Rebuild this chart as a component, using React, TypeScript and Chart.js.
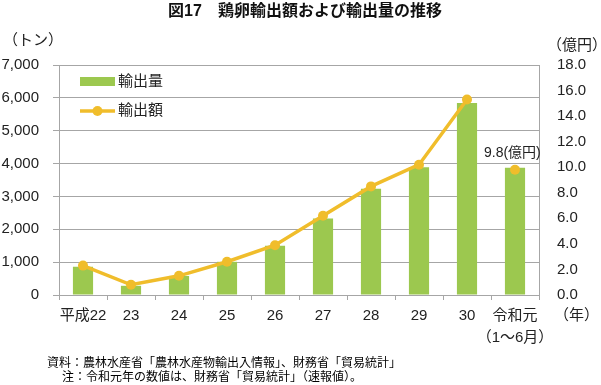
import React, { useEffect, useRef } from "react";
import { Chart, registerables } from "chart.js";

Chart.register(...registerables);

const categories: (string | string[])[] = ["平成22", "23", "24", "25", "26", "27", "28", "29", "30", ["令和元", "（1〜6月）"]];
const volumeTons: number[] = [860, 280, 580, 1010, 1500, 2330, 3230, 3890, 5840, 3870];
const valueOku: (number | null)[] = [2.3, 0.8, 1.5, 2.6, 3.9, 6.2, 8.5, 10.2, 15.3, null];
const valueOkuPartial: (number | null)[] = [null, null, null, null, null, null, null, null, null, 9.8];
const leftTicksMax = 7000;
const rightTicksMax = 18;

const FONT = "'Liberation Sans', Arial, 'Noto Sans CJK JP', sans-serif";
const GREEN = "#9cc84f";
const YELLOW = "#f0bd2b";
const GRID = "#a6a6a6";
const TEXT = "#222";

const overlayPlugin = {
  id: "overlay",
  afterDraw(chart: any) {
    const ctx = chart.ctx;
    const area = chart.chartArea;
    ctx.save();
    // title
    ctx.fillStyle = "#111";
    ctx.font = `bold 16px ${FONT}`;
    ctx.textAlign = "center";
    ctx.textBaseline = "middle";
    ctx.fillText("図17　鶏卵輸出額および輸出量の推移", 305, 12);
    // axis titles
    ctx.fillStyle = TEXT;
    ctx.font = `15px ${FONT}`;
    ctx.textAlign = "left";
    ctx.fillText("（トン）", 3, 41);
    ctx.fillText("（億円）", 547, 46);
    ctx.fillText("（年）", 554, 316);
    // legend
    const lx = area.left + 21;
    ctx.fillStyle = GREEN;
    ctx.fillRect(lx, 77, 35, 9);
    ctx.strokeStyle = YELLOW;
    ctx.lineWidth = 3.5;
    ctx.beginPath();
    ctx.moveTo(lx, 111);
    ctx.lineTo(lx + 35, 111);
    ctx.stroke();
    ctx.fillStyle = YELLOW;
    ctx.beginPath();
    ctx.arc(lx + 17.5, 111, 5, 0, Math.PI * 2);
    ctx.fill();
    ctx.fillStyle = TEXT;
    ctx.font = `15px ${FONT}`;
    ctx.fillText("輸出量", lx + 38, 82);
    ctx.fillText("輸出額", lx + 38, 111);
    // annotation for last value
    const xs = chart.scales.x;
    const yr = chart.scales.y2;
    const idx = categories.length - 1;
    const v = valueOkuPartial[idx] as number;
    const px = xs.getPixelForValue(idx);
    const py = yr.getPixelForValue(v);
    ctx.font = `14px ${FONT}`;
    ctx.textAlign = "left";
    ctx.fillText(`${v.toFixed(1)}(億円)`, px - 31, py - 17);
    // footnotes
    ctx.font = `12px ${FONT}`;
    ctx.fillStyle = "#000";
    ctx.fillText("資料：農林水産省「農林水産物輸出入情報」、財務省「貿易統計」", 47, 364);
    ctx.fillText("注：令和元年の数値は、財務省「貿易統計」（速報値）。", 62, 378);
    ctx.restore();
  },
};

export default function App() {
  const ref = useRef<HTMLCanvasElement | null>(null);
  useEffect(() => {
    if (!ref.current) return;
    const chart = new Chart(ref.current, {
      type: "bar",
      data: {
        labels: categories as any,
        datasets: [
          {
            type: "line",
            label: "輸出額",
            data: valueOku,
            yAxisID: "y2",
            borderColor: YELLOW,
            backgroundColor: YELLOW,
            borderWidth: 3.5,
            pointRadius: 5,
            pointBackgroundColor: YELLOW,
            pointBorderWidth: 0,
            tension: 0,
            order: 1,
          } as any,
          {
            type: "line",
            label: "輸出額（速報）",
            data: valueOkuPartial,
            yAxisID: "y2",
            borderColor: YELLOW,
            backgroundColor: YELLOW,
            showLine: false,
            pointRadius: 5,
            pointBorderWidth: 0,
            order: 1,
          } as any,
          {
            type: "bar",
            label: "輸出量",
            data: volumeTons,
            yAxisID: "y",
            backgroundColor: GREEN,
            barPercentage: 0.42,
            categoryPercentage: 1,
            order: 2,
          },
        ],
      },
      options: {
        responsive: false,
        animation: false,
        layout: { padding: { top: 65, left: 0, right: 0, bottom: 0 } },
        plugins: { legend: { display: false }, tooltip: { enabled: false }, title: { display: false } },
        scales: {
          x: {
            offset: true,
            grid: { drawOnChartArea: false, drawTicks: true, tickLength: 5, color: GRID, offset: true },
            border: { display: true, color: GRID },
            ticks: {
              color: TEXT,
              padding: 5,
              maxRotation: 0,
              autoSkip: false,
              font: { family: FONT, size: 15, lineHeight: 1.45 },
            },
            afterFit: (s: any) => {
              s.height = 90;
            },
          },
          y: {
            position: "left",
            min: 0,
            max: leftTicksMax,
            grid: { color: GRID, tickLength: 6, drawTicks: true },
            border: { display: true, color: GRID },
            ticks: {
              stepSize: 1000,
              color: TEXT,
              padding: 14,
              font: { family: FONT, size: 15 },
              callback: (v: any) => Number(v).toLocaleString("en-US"),
            },
            afterFit: (s: any) => {
              s.width = 59;
            },
          },
          y2: {
            position: "right",
            min: 0,
            max: rightTicksMax,
            grid: { drawOnChartArea: false, drawTicks: false },
            border: { display: true, color: GRID },
            ticks: {
              stepSize: 2,
              color: TEXT,
              padding: 18,
              font: { family: FONT, size: 15 },
              callback: (v: any) => Number(v).toFixed(1),
            },
            afterFit: (s: any) => {
              s.width = 62;
            },
          },
        },
      },
      plugins: [overlayPlugin],
    });
    return () => chart.destroy();
  }, []);
  return (
    <div style={{ position: "fixed", left: 0, top: 0, width: 601, height: 385, background: "#fff" }}>
      <canvas ref={ref} width={601} height={385} style={{ width: 601, height: 385 }} />
    </div>
  );
}
